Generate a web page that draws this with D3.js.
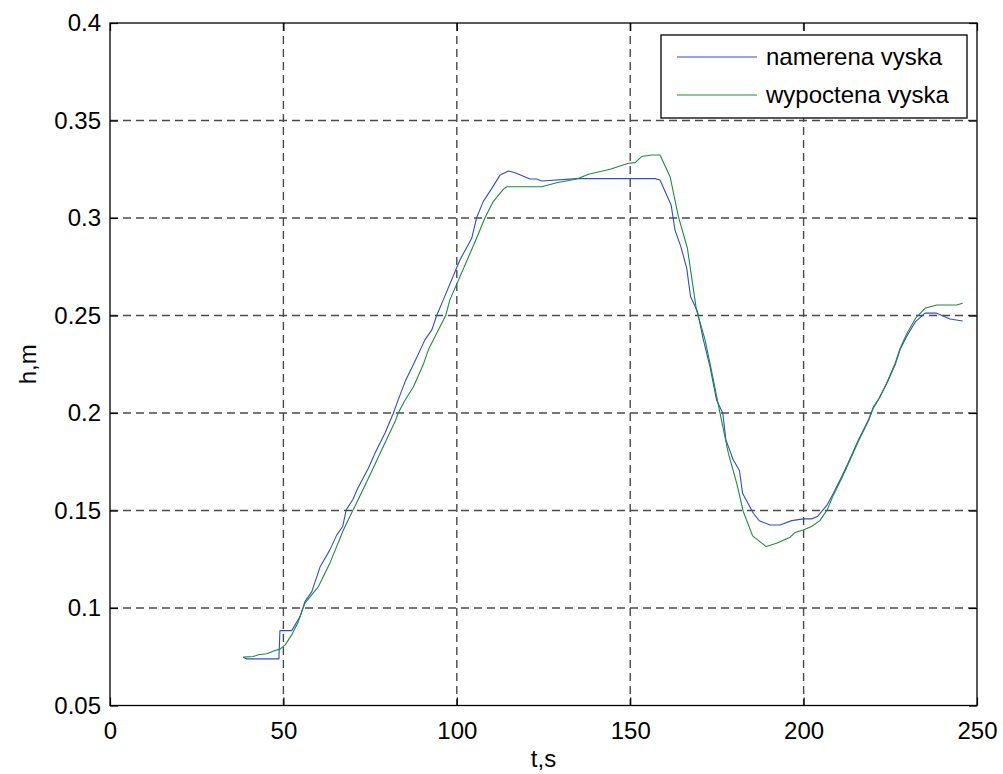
<!DOCTYPE html>
<meta charset='utf-8'>
<head>
    <title>h,m</title>
    <script src='https://d3js.org/d3.v7.min.js'></script>
</head>

<style>
    body { margin: 0; background: #fff; }
    text { font-family: Arial, 'Liberation Sans', sans-serif; fill: #000; }
    .grid line { stroke: #4a4a4a; stroke-width: 1.4px; stroke-dasharray: 8 5; }
    .frame { fill: none; stroke: #000; stroke-width: 1.3px; }
    .series { fill: none; stroke-width: 1.1px; stroke-linejoin: round; }
</style>

<svg></svg>

<script>
    var vWidth = 1003;
    var vHeight = 774;

    // t [s], h [m]
    var measured = [
        [38.4, 0.0748], [39.5, 0.0739], [48.7, 0.0739], [49.0, 0.0884], [52.4, 0.0884],
        [54.8, 0.0956], [56.2, 0.1033], [58.2, 0.1084], [60.6, 0.1212], [63.4, 0.1298],
        [65.4, 0.1375], [67.1, 0.1418], [68.1, 0.1503], [70.0, 0.1555], [71.3, 0.1609],
        [74.5, 0.1717], [76.4, 0.1794], [79.3, 0.1897], [81.7, 0.1999], [83.1, 0.2067],
        [85.1, 0.2161], [87.9, 0.2264], [90.8, 0.2375], [92.8, 0.2426], [94.2, 0.2500],
        [96.1, 0.2580], [100.9, 0.2785], [104.3, 0.2896], [105.7, 0.3000], [107.6, 0.3084],
        [110.1, 0.3152], [112.5, 0.3221], [114.9, 0.3241], [116.8, 0.3232], [121.1, 0.3200],
        [123.0, 0.3200], [124.5, 0.3190], [134.6, 0.3202], [157.2, 0.3202], [158.6, 0.3195],
        [161.8, 0.3067], [162.9, 0.2939], [164.6, 0.2853], [166.3, 0.2742], [167.4, 0.2597],
        [169.4, 0.2520], [171.1, 0.2375], [173.0, 0.2238], [174.9, 0.2067], [176.7, 0.1999],
        [177.6, 0.1862], [179.7, 0.1760], [181.5, 0.1705], [182.4, 0.1589], [185.5, 0.1486],
        [187.2, 0.1448], [190.3, 0.1426], [193.2, 0.1426], [196.6, 0.1448], [199.9, 0.1457],
        [202.3, 0.1457], [204.0, 0.1469], [206.8, 0.1529], [208.6, 0.1589], [211.0, 0.1674],
        [212.9, 0.1746], [215.8, 0.1862], [218.7, 0.1965], [220.1, 0.2030], [221.8, 0.2076],
        [224.0, 0.2153], [226.4, 0.2247], [227.8, 0.2324], [229.7, 0.2392], [232.3, 0.2469],
        [235.0, 0.2512], [238.4, 0.2512], [242.2, 0.2482], [245.9, 0.2472]
    ];

    var computed = [
        [38.4, 0.0748], [41.3, 0.0751], [42.8, 0.0760], [45.2, 0.0765], [47.6, 0.0782],
        [49.0, 0.0789], [50.5, 0.0811], [52.4, 0.0862], [54.3, 0.0930], [56.2, 0.1025],
        [60.1, 0.1110], [63.4, 0.1230], [67.3, 0.1400], [70.0, 0.1500], [70.6, 0.1520],
        [75.0, 0.1683], [78.8, 0.1828], [82.2, 0.1956], [83.1, 0.2000], [85.1, 0.2067],
        [87.5, 0.2135], [90.3, 0.2247], [91.8, 0.2324], [96.8, 0.2500], [98.0, 0.2580],
        [103.0, 0.2785], [105.7, 0.2896], [108.1, 0.3000], [110.5, 0.3084], [113.4, 0.3147],
        [114.4, 0.3160], [124.5, 0.3160], [128.8, 0.3181], [134.6, 0.3200], [138.0, 0.3224],
        [144.2, 0.3250], [149.5, 0.3281], [151.4, 0.3284], [153.3, 0.3315], [156.2, 0.3323],
        [158.6, 0.3323], [161.5, 0.3212], [163.9, 0.3007], [166.5, 0.2845], [167.4, 0.2734],
        [169.1, 0.2529], [171.6, 0.2375], [173.8, 0.2187], [175.7, 0.2016], [178.3, 0.1794],
        [180.7, 0.1640], [182.6, 0.1495], [185.3, 0.1370], [189.2, 0.1315], [192.2, 0.1332],
        [196.1, 0.1363], [197.5, 0.1387], [199.9, 0.1400], [202.3, 0.1418], [204.7, 0.1448],
        [206.8, 0.1503], [208.6, 0.1580], [211.0, 0.1665], [212.9, 0.1740], [215.8, 0.1855],
        [218.7, 0.1960], [220.1, 0.2025], [221.8, 0.2076], [224.0, 0.2155], [226.4, 0.2255],
        [227.8, 0.2330], [229.7, 0.2405], [232.3, 0.2486], [235.0, 0.2537], [238.4, 0.2554],
        [244.1, 0.2554], [245.9, 0.2563]
    ];

    var xTicks = [0, 50, 100, 150, 200, 250];
    var yTicks = [0.05, 0.1, 0.15, 0.2, 0.25, 0.3, 0.35, 0.4];
    var legendNames = ['namerena vyska', 'wypoctena vyska'];
    var colors = ['#2f4fc4', '#1f8a40'];

    var svg = d3.select('svg').attr('width', vWidth).attr('height', vHeight);

    var x = d3.scaleLinear().domain([0, 250]).range([110, 977]);
    var y = d3.scaleLinear().domain([0.05, 0.4]).range([705.5, 23]);

    // grid
    var grid = svg.append('g').attr('class', 'grid');
    grid.selectAll('.gx').data(xTicks.slice(1, -1)).enter().append('line')
        .attr('x1', function (d) { return x(d); }).attr('x2', function (d) { return x(d); })
        .attr('y1', y(0.4)).attr('y2', y(0.05));
    grid.selectAll('.gy').data(yTicks.slice(1, -1)).enter().append('line')
        .attr('y1', function (d) { return y(d); }).attr('y2', function (d) { return y(d); })
        .attr('x1', x(0)).attr('x2', x(250));

    // axes (ticks inside, on all four sides)
    var tl = 8;
    svg.append('g').attr('transform', 'translate(0,' + y(0.05) + ')')
        .call(d3.axisBottom(x).tickValues(xTicks).tickSize(-tl).tickPadding(16).tickFormat(d3.format('d')));
    svg.append('g').attr('transform', 'translate(0,' + y(0.4) + ')')
        .call(d3.axisTop(x).tickValues(xTicks).tickSize(-tl).tickFormat(''));
    svg.append('g').attr('transform', 'translate(' + x(0) + ',0)')
        .call(d3.axisLeft(y).tickValues(yTicks).tickSize(-tl).tickPadding(9).tickFormat(function (d) { return String(+d.toFixed(2)); }));
    svg.append('g').attr('transform', 'translate(' + x(250) + ',0)')
        .call(d3.axisRight(y).tickValues(yTicks).tickSize(-tl).tickFormat(''));

    svg.selectAll('.domain').remove();
    svg.selectAll('.tick line').attr('stroke', '#000').attr('stroke-width', 1.2);
    svg.selectAll('.tick text').style('font-size', '24px').attr('fill', '#000');

    svg.append('rect').attr('class', 'frame')
        .attr('x', x(0)).attr('y', y(0.4))
        .attr('width', x(250) - x(0)).attr('height', y(0.05) - y(0.4));

    // lines
    var line = d3.line()
        .x(function (d) { return x(d[0]); })
        .y(function (d) { return y(d[1]); });

    svg.selectAll('.series').data([measured, computed]).enter().append('path')
        .attr('class', 'series')
        .attr('stroke', function (d, i) { return colors[i]; })
        .attr('d', line);

    // axis labels
    svg.append('text').attr('x', (x(0) + x(250)) / 2).attr('y', 767)
        .attr('text-anchor', 'middle').style('font-size', '24px').text('t,s');
    svg.append('text').attr('transform', 'translate(36,' + (y(0.4) + y(0.05)) / 2 + ') rotate(-90)')
        .attr('text-anchor', 'middle').style('font-size', '24px').text('h,m');

    // legend
    var lg = svg.append('g').attr('transform', 'translate(661,35)');
    lg.append('rect').attr('width', 306).attr('height', 83)
        .attr('fill', '#fff').attr('stroke', '#000').attr('stroke-width', 1.3);
    var item = lg.selectAll('.item').data(legendNames).enter().append('g')
        .attr('transform', function (d, i) { return 'translate(0,' + (22 + i * 38) + ')'; });
    item.append('line').attr('x1', 16).attr('x2', 96)
        .attr('stroke', function (d, i) { return colors[i]; }).attr('stroke-width', 1.1);
    item.append('text').attr('x', 105).attr('dy', '0.35em')
        .style('font-size', '24px').text(function (d) { return d; });
</script>
